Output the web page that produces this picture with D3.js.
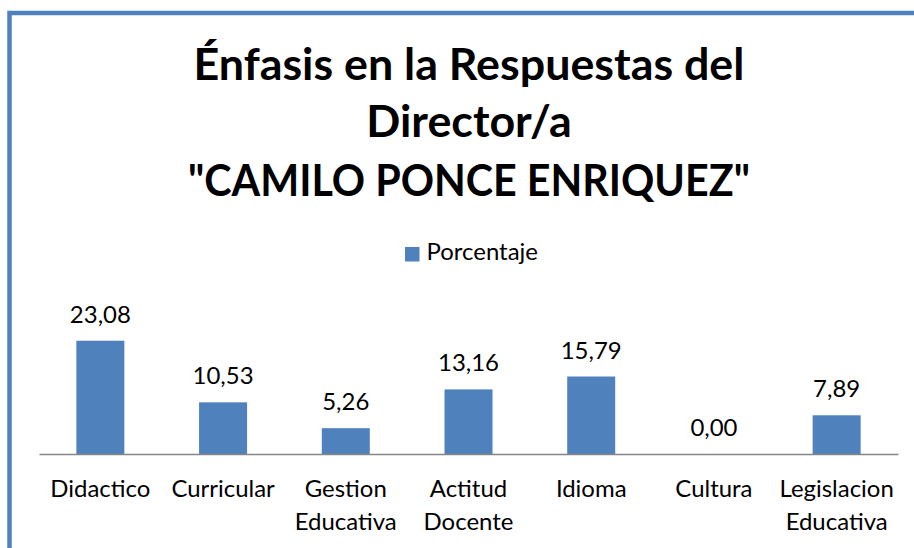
<!DOCTYPE html>
<html>
<head>
<meta charset="utf-8">
<script src="https://cdn.jsdelivr.net/npm/d3@7/dist/d3.min.js"></script>
<style>
  html, body { margin: 0; padding: 0; background: #fff; }
  svg { display: block; }
  text { font-family: Lato, "Open Sans", sans-serif; fill: #000; }
</style>
</head>
<body>
<svg id="chart" width="914" height="548"></svg>
<script>
const categories = [["Didactico"], ["Curricular"], ["Gestion", "Educativa"], ["Actitud", "Docente"], ["Idioma"], ["Cultura"], ["Legislacion", "Educativa"]];
const values = [23.08, 10.53, 5.26, 13.16, 15.79, 0.00, 7.89];
const seriesName = "Porcentaje";
const titleLines = ["Énfasis en la Respuestas del", "Director/a", "\"CAMILO PONCE ENRIQUEZ\""];
const yMax = 25;

const svg = d3.select("#chart");
const color = "#4F81BD";

// frame
svg.append("rect")
  .attr("x", 9.5).attr("y", 13)
  .attr("width", 1200).attr("height", 1200)
  .attr("fill", "none").attr("stroke", color).attr("stroke-width", 4.5);

function measure(str, size, weight) {
  const t = svg.append("text").attr("font-size", size).attr("font-weight", weight).text(str);
  const w = t.node().getComputedTextLength();
  t.remove();
  return w;
}
function fitSize(str, target, weight, base) {
  return base * target / measure(str, base, weight);
}
const catSize = fitSize("Didactico", 100, "normal", 20);
const titleSize = fitSize(titleLines[0], 551, "bold", 40);
const titleWidths = [551, 205, 562];

const cx = 469;
const titleBase = [80, 137, 196];
svg.append("g").selectAll("text").data(titleLines).join("text")
  .attr("x", cx).attr("y", (d, i) => titleBase[i])
  .attr("text-anchor", "middle")
  .attr("font-weight", "bold")
  .attr("font-size", titleSize)
  .each(function(d, i) {
    const w = measure(d, titleSize, "bold");
    if (Math.abs(w - titleWidths[i]) > 6) {
      d3.select(this).attr("textLength", titleWidths[i]).attr("lengthAdjust", "spacingAndGlyphs");
    }
  })
  .text(d => d);

// legend
svg.append("rect").attr("x", 405).attr("y", 247).attr("width", 14.5).attr("height", 14.5).attr("fill", color);
svg.append("text").attr("x", 426.5).attr("y", 259.5).attr("font-size", catSize).text(seriesName);

// scales
const x = d3.scaleBand().domain(d3.range(categories.length)).range([39, 898]).padding(0);
const y = d3.scaleLinear().domain([0, yMax]).range([454, 331.3]);
const barW = 48;

svg.append("g").selectAll("rect").data(values).join("rect")
  .attr("x", (d, i) => x(i) + x.bandwidth() / 2 - barW / 2)
  .attr("y", d => y(d))
  .attr("width", barW)
  .attr("height", d => y(0) - y(d))
  .attr("fill", color);

// axis line
const axis = d3.axisBottom(x).tickSize(0).tickFormat("");
const ag = svg.append("g").attr("transform", `translate(0,${y(0)})`).call(axis);
ag.select(".domain").attr("stroke", "#868686").attr("stroke-width", 1.5);

// value labels
const fmt = v => d3.format(".2f")(v).replace(".", ",");
svg.append("g").selectAll("text").data(values).join("text")
  .attr("x", (d, i) => x(i) + x.bandwidth() / 2)
  .attr("y", d => y(d) - 18)
  .attr("text-anchor", "middle")
  .attr("font-size", catSize)
  .text(d => fmt(d));

// category labels
const cg = svg.append("g").selectAll("text").data(categories).join("text")
  .attr("x", (d, i) => x(i) + x.bandwidth() / 2)
  .attr("y", 497)
  .attr("text-anchor", "middle")
  .attr("font-size", catSize);
cg.selectAll("tspan").data(d => d).join("tspan")
  .attr("x", function() { return this.parentNode.getAttribute("x"); })
  .attr("dy", (d, i) => i === 0 ? 0 : 32.5)
  .text(d => d);
</script>
</body>
</html>
